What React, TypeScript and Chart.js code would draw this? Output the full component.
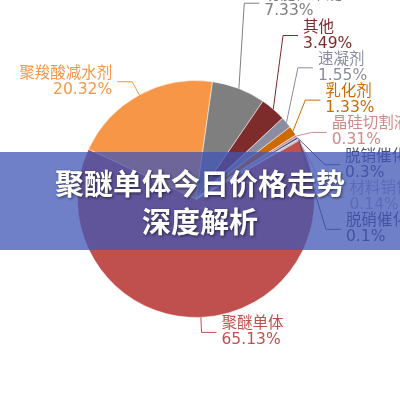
import { useEffect, useRef } from "react";
import { Chart, registerables, Plugin } from "chart.js";

Chart.register(...registerables);

const categories = [
  "聚醚单体",
  "聚羧酸减水剂",
  "功能性聚醚",
  "其他",
  "速凝剂",
  "乳化剂",
  "晶硅切割液",
  "脱销催化剂",
  "材料销售",
  "脱硝催化剂",
];
const shares = [65.13, 20.32, 7.33, 3.49, 1.55, 1.33, 0.31, 0.3, 0.14, 0.1];
const sliceColors = [
  "#c0504d",
  "#f79646",
  "#7f7f7f",
  "#7e2b2b",
  "#8c8ca0",
  "#cc6a00",
  "#d08a8a",
  "#4b4f7a",
  "#a9a9b9",
  "#4a4a6a",
];
const title = ["聚醚单体今日价格走势", "深度解析"];

const LINE_LEN = 15;
const LINE_LEN2 = 15;
const TEXT_GAP = 5;
const LABEL_SPACING = 32.3;

type Item = {
  idx: number;
  right: boolean;
  p1: { x: number; y: number };
  p2: { x: number; y: number };
  cx: number;
  cy: number;
  r2: number;
  ly: number;
  y: number;
};

// spread labels on one side so they do not overlap, moving them as little as possible
function spread(group: Item[]) {
  const blocks: { items: Item[]; top: number }[] = [];
  for (const item of group) {
    let b = { items: [item], top: item.ly };
    while (blocks.length) {
      const prev = blocks[blocks.length - 1];
      if (prev.top + prev.items.length * LABEL_SPACING > b.top) {
        const items = prev.items.concat(b.items);
        const top =
          items.reduce((s, it, k) => s + it.ly - k * LABEL_SPACING, 0) / items.length;
        b = { items, top };
        blocks.pop();
      } else break;
    }
    blocks.push(b);
  }
  blocks.forEach((b) => b.items.forEach((it, k) => (it.y = b.top + k * LABEL_SPACING)));
}

const outsideLabels: Plugin<"pie"> = {
  id: "outsideLabels",
  afterDraw(chart) {
    const ctx = chart.ctx;
    const meta = chart.getDatasetMeta(0);
    const items: Item[] = meta.data.map((arc, idx) => {
      const { x, y, startAngle, endAngle, outerRadius } = (arc as any).getProps(
        ["x", "y", "startAngle", "endAngle", "outerRadius"],
        true
      );
      const mid = (startAngle + endAngle) / 2;
      const cos = Math.cos(mid);
      const sin = Math.sin(mid);
      const r2 = outerRadius + LINE_LEN;
      return {
        idx,
        right: cos >= 0,
        p1: { x: x + outerRadius * cos, y: y + outerRadius * sin },
        p2: { x: x + r2 * cos, y: y + r2 * sin },
        cx: x,
        cy: y,
        r2,
        ly: y + r2 * sin,
        y: 0,
      };
    });

    spread(items.filter((it) => it.right).sort((a, b) => a.ly - b.ly));
    spread(items.filter((it) => !it.right).sort((a, b) => a.ly - b.ly));

    ctx.save();
    ctx.font = "15.5px 'DejaVu Sans', 'Noto Sans CJK SC', sans-serif";
    ctx.textBaseline = "middle";
    ctx.lineWidth = 1;
    for (const it of items) {
      const dir = it.right ? 1 : -1;
      const dy = it.y - it.cy;
      const ell = Math.sqrt(Math.max(0, it.r2 * it.r2 - dy * dy));
      const ex = it.right ? Math.max(it.p2.x, it.cx + ell) : Math.min(it.p2.x, it.cx - ell);
      const color = sliceColors[it.idx];

      ctx.strokeStyle = color;
      ctx.beginPath();
      ctx.moveTo(it.p1.x, it.p1.y);
      ctx.lineTo(ex, it.y);
      ctx.lineTo(ex + dir * LINE_LEN2, it.y);
      ctx.stroke();

      const tx = ex + dir * (LINE_LEN2 + TEXT_GAP);
      ctx.fillStyle = color;
      ctx.textAlign = it.right ? "left" : "right";
      ctx.fillText(categories[it.idx], tx, it.y - 8);
      ctx.fillText(`${shares[it.idx]}%`, tx, it.y + 8);
    }
    ctx.restore();
  },
};

const SharePie: React.FC = () => {
  const chartRef = useRef<HTMLCanvasElement>(null);
  const chartInstance = useRef<Chart<"pie"> | null>(null);

  useEffect(() => {
    if (!chartRef.current) return;
    if (chartInstance.current) chartInstance.current.destroy();

    chartInstance.current = new Chart(chartRef.current, {
      type: "pie",
      data: {
        labels: categories,
        datasets: [
          {
            data: shares,
            backgroundColor: sliceColors,
            borderColor: "rgba(255,255,255,0.5)",
            borderWidth: 1,
          },
        ],
      },
      options: {
        responsive: false,
        animation: false,
        rotation: 60.4,
        layout: { padding: { left: 77, right: 85, top: 80, bottom: 82 } },
        plugins: {
          legend: { display: false },
          tooltip: { enabled: false },
        },
      },
      plugins: [outsideLabels],
    });

    return () => {
      chartInstance.current?.destroy();
      chartInstance.current = null;
    };
  }, []);

  return <canvas ref={chartRef} width={400} height={400} />;
};

export default function App() {
  return (
    <div
      style={{
        position: "fixed",
        left: 0,
        top: 0,
        width: 400,
        height: 400,
        background: "#fff",
        overflow: "hidden",
      }}
    >
      <SharePie />
      <div
        style={{
          position: "absolute",
          left: 0,
          top: 152,
          width: 400,
          height: 98,
          background: "rgba(64,86,182,0.75)",
          display: "flex",
          flexDirection: "column",
          alignItems: "center",
          justifyContent: "center",
          color: "#fff",
          fontFamily: "'Noto Sans CJK SC', sans-serif",
          fontWeight: 700,
          fontSize: 29,
          lineHeight: "38px",
          textShadow: "1px 1px 3px rgba(0,0,0,0.6)",
        }}
      >
        {title.map((t) => (
          <div key={t}>{t}</div>
        ))}
      </div>
    </div>
  );
}
